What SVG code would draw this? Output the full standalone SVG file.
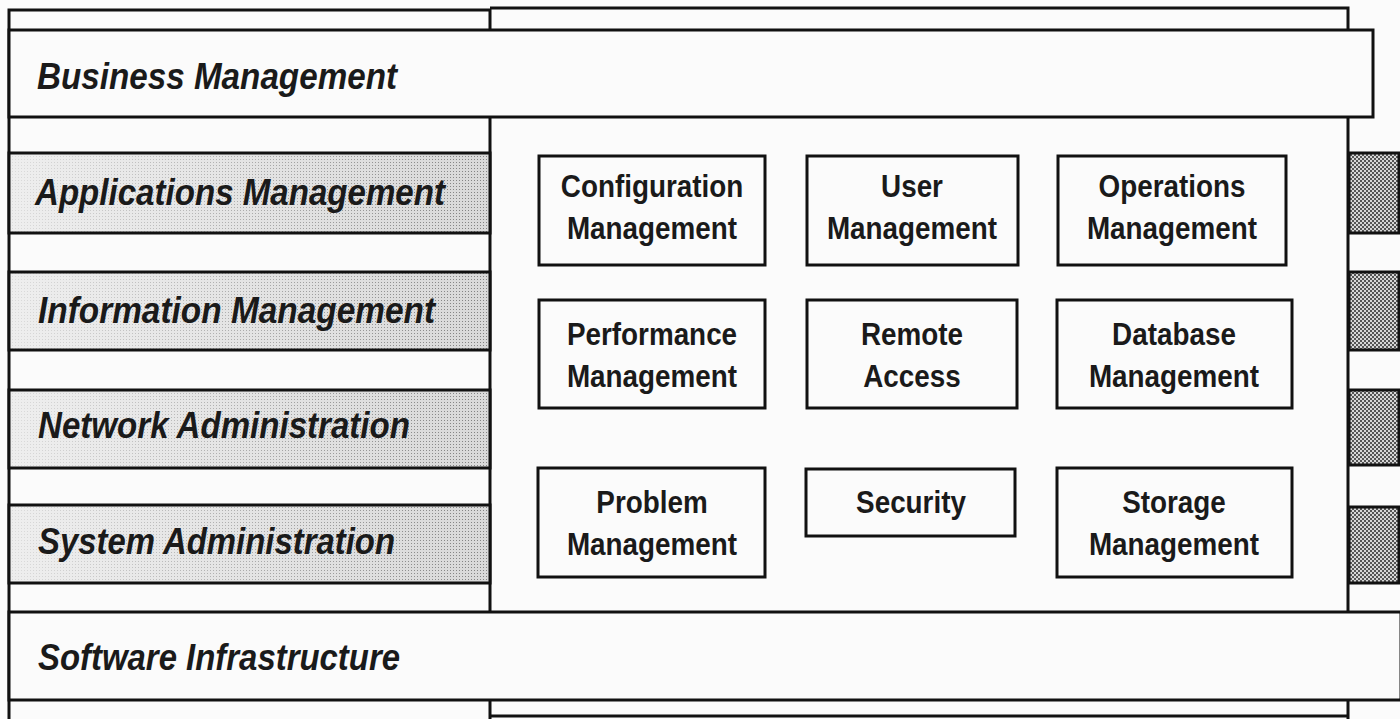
<svg xmlns="http://www.w3.org/2000/svg" width="1400" height="719" viewBox="0 0 1400 719">
  <style>
    .frame { fill: none; stroke: #111; stroke-width: 3; }
    .bar { fill: #fbfbfb; stroke: #111; stroke-width: 3; }
    .shade { fill: url(#lightShade); }
    .dots { fill: url(#fineDots); }
    .edge { fill: none; stroke: #111; stroke-width: 3; }
    .dark { fill: url(#darkDots); stroke: #111; stroke-width: 3; }
    .box { fill: #fbfbfb; stroke: #111; stroke-width: 3; }
    .layer { font-family: "Liberation Sans", Arial, sans-serif; font-size: 37px; font-weight: bold; font-style: italic; fill: #1a1a1a; }
    .func { font-family: "Liberation Sans", Arial, sans-serif; font-size: 32px; font-weight: bold; fill: #1a1a1a; text-anchor: middle; }
  </style>
  <defs>
    <linearGradient id="lightShade" x1="0" y1="0" x2="1" y2="0">
      <stop offset="0" stop-color="#eeeeee"/>
      <stop offset="1" stop-color="#d9d9d9"/>
    </linearGradient>
    <linearGradient id="fadeIn" x1="0" y1="0" x2="1" y2="0">
      <stop offset="0" stop-color="#fff" stop-opacity="0.15"/>
      <stop offset="1" stop-color="#fff" stop-opacity="0.9"/>
    </linearGradient>
    <pattern id="fineDots" width="3" height="3" patternUnits="userSpaceOnUse">
      <rect width="1" height="1" fill="#777"/>
    </pattern>
    <mask id="shadeMask" maskContentUnits="objectBoundingBox">
      <rect width="1" height="1" fill="url(#fadeIn)"/>
    </mask>
    <pattern id="darkDots" width="4" height="4" patternUnits="userSpaceOnUse">
      <rect width="4" height="4" fill="#d6d6d6"/>
      <rect x="0" y="0" width="2" height="2" fill="#555"/>
      <rect x="2" y="2" width="2" height="2" fill="#555"/>
    </pattern>
  </defs>

  <rect width="1400" height="719" fill="#fbfbfb"/>

  <!-- column frames behind the layer bars -->
  <g id="columns" class="frame">
    <path d="M9 719 V10 H490 V719"/>
    <path d="M490 8 H1348 V719"/>
    <path d="M490 716 H1348"/>
  </g>

  <g id="business-management">
    <rect class="bar" x="9" y="30" width="1364" height="87"/>
    <text class="layer" x="37" y="89" textLength="360" lengthAdjust="spacingAndGlyphs">Business Management</text>
  </g>

  <g id="applications-management">
    <rect class="shade" x="9" y="153" width="481" height="80"/>
    <rect class="dots" x="9" y="153" width="481" height="80" mask="url(#shadeMask)"/>
    <rect class="edge" x="9" y="153" width="481" height="80"/>
    <rect class="dark" x="1349" y="153" width="50" height="80"/>
    <text class="layer" x="35" y="205" textLength="410" lengthAdjust="spacingAndGlyphs">Applications Management</text>
  </g>

  <g id="information-management">
    <rect class="shade" x="9" y="272" width="481" height="78"/>
    <rect class="dots" x="9" y="272" width="481" height="78" mask="url(#shadeMask)"/>
    <rect class="edge" x="9" y="272" width="481" height="78"/>
    <rect class="dark" x="1349" y="272" width="50" height="78"/>
    <text class="layer" x="38" y="323" textLength="397" lengthAdjust="spacingAndGlyphs">Information Management</text>
  </g>

  <g id="network-administration">
    <rect class="shade" x="9" y="390" width="481" height="78"/>
    <rect class="dots" x="9" y="390" width="481" height="78" mask="url(#shadeMask)"/>
    <rect class="edge" x="9" y="390" width="481" height="78"/>
    <rect class="dark" x="1349" y="390" width="50" height="75"/>
    <text class="layer" x="38" y="438" textLength="372" lengthAdjust="spacingAndGlyphs">Network Administration</text>
  </g>

  <g id="system-administration">
    <rect class="shade" x="9" y="505" width="481" height="78"/>
    <rect class="dots" x="9" y="505" width="481" height="78" mask="url(#shadeMask)"/>
    <rect class="edge" x="9" y="505" width="481" height="78"/>
    <rect class="dark" x="1349" y="507" width="50" height="76"/>
    <text class="layer" x="38" y="554" textLength="357" lengthAdjust="spacingAndGlyphs">System Administration</text>
  </g>

  <g id="software-infrastructure">
    <rect class="bar" x="9" y="612" width="1392" height="88"/>
    <text class="layer" x="38" y="670" textLength="362" lengthAdjust="spacingAndGlyphs">Software Infrastructure</text>
  </g>

  <!-- management functions -->
  <g id="configuration-management">
    <rect class="box" x="539" y="156" width="226" height="109"/>
    <text class="func" transform="translate(652 197) scale(0.87 1)">Configuration</text>
    <text class="func" transform="translate(652 239) scale(0.87 1)">Management</text>
  </g>
  <g id="user-management">
    <rect class="box" x="807" y="156" width="211" height="109"/>
    <text class="func" transform="translate(912 197) scale(0.87 1)">User</text>
    <text class="func" transform="translate(912 239) scale(0.87 1)">Management</text>
  </g>
  <g id="operations-management">
    <rect class="box" x="1058" y="156" width="228" height="109"/>
    <text class="func" transform="translate(1172 197) scale(0.87 1)">Operations</text>
    <text class="func" transform="translate(1172 239) scale(0.87 1)">Management</text>
  </g>
  <g id="performance-management">
    <rect class="box" x="539" y="300" width="226" height="108"/>
    <text class="func" transform="translate(652 345) scale(0.87 1)">Performance</text>
    <text class="func" transform="translate(652 387) scale(0.87 1)">Management</text>
  </g>
  <g id="remote-access">
    <rect class="box" x="807" y="300" width="210" height="108"/>
    <text class="func" transform="translate(912 345) scale(0.87 1)">Remote</text>
    <text class="func" transform="translate(912 387) scale(0.87 1)">Access</text>
  </g>
  <g id="database-management">
    <rect class="box" x="1057" y="300" width="235" height="108"/>
    <text class="func" transform="translate(1174 345) scale(0.87 1)">Database</text>
    <text class="func" transform="translate(1174 387) scale(0.87 1)">Management</text>
  </g>
  <g id="problem-management">
    <rect class="box" x="538" y="468" width="227" height="109"/>
    <text class="func" transform="translate(652 513) scale(0.87 1)">Problem</text>
    <text class="func" transform="translate(652 555) scale(0.87 1)">Management</text>
  </g>
  <g id="security">
    <rect class="box" x="806" y="469" width="209" height="67"/>
    <text class="func" transform="translate(911 513) scale(0.87 1)">Security</text>
  </g>
  <g id="storage-management">
    <rect class="box" x="1057" y="468" width="235" height="109"/>
    <text class="func" transform="translate(1174 513) scale(0.87 1)">Storage</text>
    <text class="func" transform="translate(1174 555) scale(0.87 1)">Management</text>
  </g>

  <g id="connectors"/>
</svg>
